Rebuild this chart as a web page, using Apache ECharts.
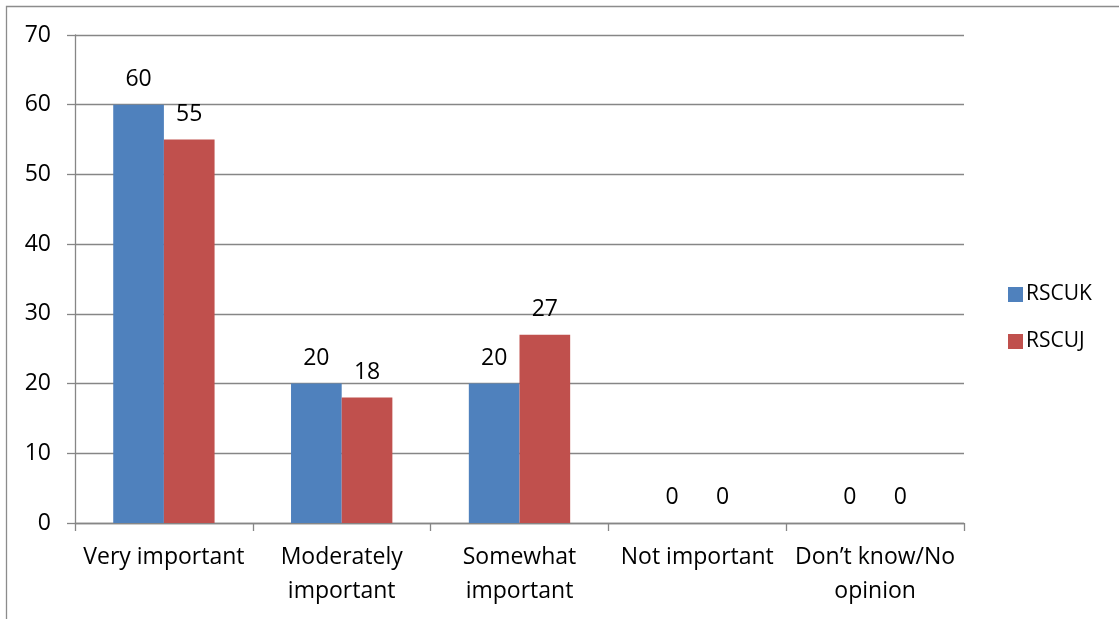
<!DOCTYPE html>
<html>
<head>
<meta charset="utf-8">
<script src="https://cdn.jsdelivr.net/npm/echarts@6/dist/echarts.min.js"></script>
<style>
html,body{margin:0;padding:0;background:#fff;}
#chart{width:1119px;height:619px;}
</style>
</head>
<body>
<div id="chart"></div>
<script>
var categories = ['Very important', 'Moderately\nimportant', 'Somewhat\nimportant', 'Not important', 'Don\u2019t know/No\nopinion'];
var rscukValues = [60, 20, 20, 0, 0];
var rscujValues = [55, 18, 27, 0, 0];
var yTicks = [0, 10, 20, 30, 40, 50, 60, 70];

var FONT = 'Open Sans';
var chart = echarts.init(document.getElementById('chart'));
var labelStyle = {
  show: true, position: 'top', distance: 14,
  color: '#000', fontFamily: FONT, fontSize: 23
};
chart.setOption({
  animation: false,
  backgroundColor: '#fff',
  graphic: [{
    type: 'rect', silent: true,
    shape: { x: 6.5, y: 6.5, width: 2000, height: 2000 },
    style: { fill: 'none', stroke: '#8c8c8c', lineWidth: 1.3 }
  }],
  grid: { left: 75, top: 35, right: 155, bottom: 96 },
  legend: {
    orient: 'vertical', left: 1003, top: 279,
    itemWidth: 15, itemHeight: 15, itemGap: 26,
    icon: 'rect',
    textStyle: { fontFamily: FONT, fontSize: 21, color: '#000', padding: [0, 0, 0, -2] },
    data: ['RSCUK', 'RSCUJ']
  },
  xAxis: {
    type: 'category',
    data: categories,
    axisLine: { lineStyle: { color: '#868686', width: 1.3 } },
    axisTick: { show: true, length: 8, alignWithLabel: false, lineStyle: { color: '#868686', width: 1.3 } },
    axisLabel: { color: '#000', fontFamily: FONT, fontSize: 23, lineHeight: 34, margin: 17, interval: 0 }
  },
  yAxis: {
    type: 'value', min: yTicks[0], max: yTicks[yTicks.length - 1], interval: 10,
    axisLine: { show: true, lineStyle: { color: '#868686', width: 1.3 } },
    axisTick: { show: true, length: 8, lineStyle: { color: '#868686', width: 1.3 } },
    axisLabel: { color: '#000', fontFamily: FONT, fontSize: 23, margin: 24 },
    splitLine: { show: true, lineStyle: { color: '#868686', width: 1.3 } }
  },
  series: [
    {
      name: 'RSCUK', type: 'bar', data: rscukValues,
      barGap: '0%', barCategoryGap: '43%',
      itemStyle: { color: '#4f81bd' },
      label: labelStyle
    },
    {
      name: 'RSCUJ', type: 'bar', data: rscujValues,
      barGap: '0%', barCategoryGap: '43%',
      itemStyle: { color: '#c0504d' },
      label: labelStyle
    }
  ]
});
</script>
</body>
</html>
